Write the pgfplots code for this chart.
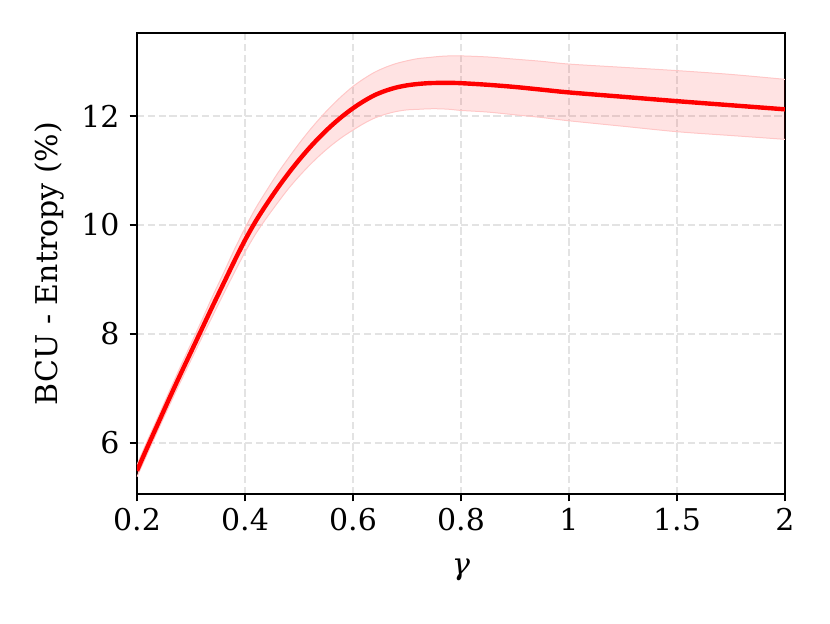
\documentclass[border=0pt]{standalone}
\usepackage{fontspec}
\setmainfont{DejaVu Serif}
\usepackage{pgfplots}
\pgfplotsset{compat=1.18}
\usepgfplotslibrary{fillbetween}
\pgfplotstableread{
x mean upper lower
0.0 5.49 5.60 5.38
0.1 5.94 6.06 5.82
0.2 6.38 6.50 6.26
0.3 6.82 6.95 6.69
0.4 7.25 7.39 7.11
0.5 7.67 7.82 7.52
0.6 8.09 8.25 7.93
0.7 8.51 8.69 8.33
0.8 8.92 9.11 8.73
0.9 9.33 9.54 9.12
1.0 9.72 9.94 9.50
1.1 10.07 10.31 9.84
1.2 10.38 10.63 10.13
1.3 10.67 10.94 10.40
1.4 10.94 11.22 10.66
1.5 11.19 11.49 10.89
1.6 11.42 11.74 11.10
1.7 11.63 11.97 11.29
1.8 11.82 12.18 11.46
1.9 11.99 12.37 11.61
2.0 12.14 12.54 11.74
2.1 12.27 12.68 11.86
2.2 12.38 12.80 11.96
2.3 12.46 12.89 12.03
2.4 12.52 12.96 12.08
2.5 12.56 13.01 12.11
2.6 12.585 13.05 12.12
2.7 12.60 13.07 12.13
2.8 12.605 13.09 12.13
2.9 12.605 13.10 12.12
3.0 12.60 13.10 12.10
3.25 12.57 13.08 12.07
3.5 12.53 13.04 12.02
3.75 12.48 13.00 11.97
4.0 12.43 12.95 11.91
4.5 12.35 12.89 11.81
5.0 12.27 12.83 11.71
5.5 12.195 12.76 11.64
6.0 12.12 12.67 11.57
}\datatable
\begin{document}
\begin{tikzpicture}
\begin{axis}[
  scale only axis, width=324pt, height=230.5pt,
  at={(0,0)}, anchor=south west,
  xmin=0, xmax=6, ymin=5.064, ymax=13.52,
  xtick={0,1,2,3,4,5,6},
  xticklabels={0.2,0.4,0.6,0.8,1,1.5,2},
  ytick={6,8,10,12},
  xtick pos=bottom, ytick pos=left,
  tick align=outside, major tick length=3.7pt,
  tick style={black, line width=0.8pt},
  axis line style={black, line width=0.8pt},
  grid=major,
  major grid style={black!11, line width=1pt, dash pattern=on 3.7pt off 1.7pt},
  ticklabel style={font=\fontsize{15}{18}\selectfont},
  yticklabel style={xshift=-1.5pt},
  /pgf/number format/assume math mode=true,
  xlabel={\textit{γ}},
  ylabel={BCU - Entropy (\%)},
  xlabel style={font=\fontsize{15}{18}\selectfont, at={(axis description cs:0.5,-0.1649)}, anchor=center, inner sep=0pt},
  ylabel style={font=\fontsize{15}{18}\selectfont, at={(axis description cs:-0.1358,0.5)}, anchor=center, inner sep=0pt},
]
\addplot[name path=U, smooth, red!22, line width=0.5pt] table[x=x, y=upper] {\datatable};
\addplot[name path=L, smooth, red!22, line width=0.5pt] table[x=x, y=lower] {\datatable};
\addplot[red, fill opacity=0.11, draw=none] fill between[of=U and L];
\addplot[smooth, red, line width=2.2pt] table[x=x, y=mean] {\datatable};
\end{axis}
\pgfresetboundingbox
\path[use as bounding box] (-68.5pt,-64.5pt) rectangle (346.5pt,247pt);
\end{tikzpicture}
\end{document}
